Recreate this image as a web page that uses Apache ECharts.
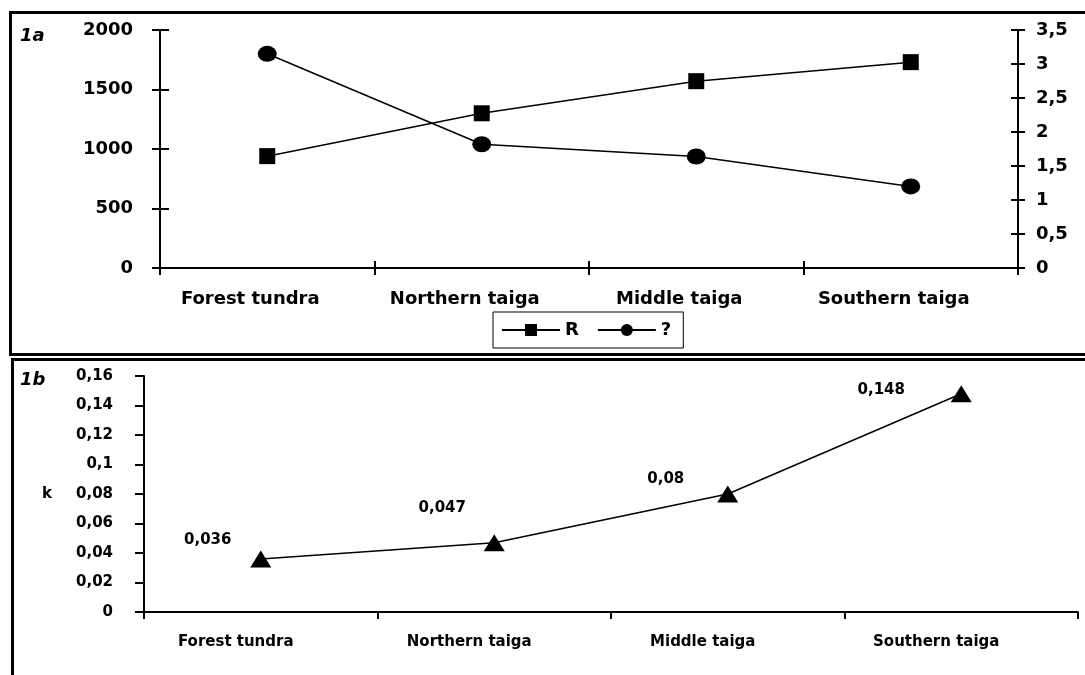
<!DOCTYPE html>
<html>
<head>
<meta charset="utf-8">
<script src="https://cdn.jsdelivr.net/npm/echarts@6/dist/echarts.min.js"></script>
<style>
html,body{margin:0;padding:0;background:#fff;}
#c{width:1085px;height:675px;}
</style>
</head>
<body>
<div id="c"></div>
<script>
// ---- data ----
var categories = ['Forest tundra', 'Northern taiga', 'Middle taiga', 'Southern taiga'];
var seriesR = [940, 1300, 1570, 1730];          // left axis (1a)
var seriesQ = [3.15, 1.82, 1.64, 1.2];          // right axis (1a)
var seriesK = [0.036, 0.047, 0.08, 0.148];      // panel 1b
var leftTicksA = { min: 0, max: 2000, interval: 500 };
var rightTicksA = { min: 0, max: 3.5, interval: 0.5 };
var ticksB = { min: 0, max: 0.16, interval: 0.02 };
// label offsets for 1b value labels (style, not data)
var kLabelOffsets = [[-53, 7], [-52, -9], [-62, 11], [-80, 22]];

var FONT = '"DejaVu Sans", "Liberation Sans", Arial, sans-serif';
function comma(v) { return String(+v.toFixed(6)).replace('.', ','); }
function plain(v) { return String(v); }

var chart = echarts.init(document.getElementById('c'), null, { renderer: 'canvas' });

var lineS = { color: '#000', width: 2 };

var option = {
  backgroundColor: '#fff',
  animation: false,
  grid: [
    { left: 160, right: 67, top: 30, bottom: 407 },
    { left: 144, right: 7, top: 376, bottom: 63 },
    { left: 160, right: 67, top: 30, bottom: 407 }
  ],
  legend: {
    left: 493, top: 312,
    padding: [9, 12, 9, 8],
    itemWidth: 58, itemHeight: 15, itemGap: 18,
    borderColor: '#000', borderWidth: 1,
    textStyle: { fontFamily: FONT, fontWeight: 'bold', fontSize: 18, color: '#000', padding: [0, 0, 0, 0] },
    data: ['R', '?']
  },
  xAxis: [
    { type: 'category', gridIndex: 0, data: categories, boundaryGap: true,
      axisLine: { show: true, lineStyle: lineS }, axisTick: { show: true, length: 7, lineStyle: lineS },
      axisLabel: { fontFamily: FONT, fontWeight: 'bold', fontSize: 18, color: '#000', margin: 22, interval: 0, padding: [0, 34, 0, 0] },
      splitLine: { show: false } },
    { type: 'category', gridIndex: 2, position: 'bottom', offset: -7, data: categories, boundaryGap: true,
      axisLine: { show: false, onZero: false }, axisTick: { show: true, length: 14, lineStyle: lineS },
      axisLabel: { show: false }, splitLine: { show: false } },
    { type: 'category', gridIndex: 1, data: categories, boundaryGap: true,
      axisLine: { show: true, lineStyle: lineS }, axisTick: { show: true, length: 7, lineStyle: lineS },
      axisLabel: { fontFamily: FONT, fontWeight: 'bold', fontSize: 15, color: '#000', margin: 23, interval: 0, padding: [0, 50, 0, 0] },
      splitLine: { show: false } }
  ],
  yAxis: [
    { type: 'value', gridIndex: 0, position: 'left', min: leftTicksA.min, max: leftTicksA.max, interval: leftTicksA.interval,
      axisLine: { show: true, lineStyle: lineS }, axisTick: { show: true, length: 8, lineStyle: lineS },
      axisLabel: { fontFamily: FONT, fontWeight: 'bold', fontSize: 18, color: '#000', margin: 27, formatter: plain },
      splitLine: { show: false } },
    { type: 'value', gridIndex: 0, position: 'right', min: rightTicksA.min, max: rightTicksA.max, interval: rightTicksA.interval,
      axisLine: { show: true, lineStyle: lineS }, axisTick: { show: true, length: 7, lineStyle: lineS },
      axisLabel: { fontFamily: FONT, fontWeight: 'bold', fontSize: 18, color: '#000', margin: 18, formatter: comma },
      splitLine: { show: false } },
    { type: 'value', gridIndex: 2, position: 'left', offset: -9, min: leftTicksA.min, max: leftTicksA.max, interval: leftTicksA.interval,
      axisLine: { show: false }, axisTick: { show: true, length: 17, lineStyle: lineS },
      axisLabel: { show: false }, splitLine: { show: false } },
    { type: 'value', gridIndex: 2, position: 'right', offset: -7, min: rightTicksA.min, max: rightTicksA.max, interval: rightTicksA.interval,
      axisLine: { show: false }, axisTick: { show: true, length: 14, lineStyle: lineS },
      axisLabel: { show: false }, splitLine: { show: false } },
    { type: 'value', gridIndex: 1, position: 'left', min: ticksB.min, max: ticksB.max, interval: ticksB.interval,
      name: 'k', nameLocation: 'middle', nameGap: 92, nameRotate: 0,
      nameTextStyle: { fontFamily: FONT, fontWeight: 'bold', fontSize: 15, color: '#000' },
      axisLine: { show: true, lineStyle: lineS }, axisTick: { show: true, length: 9, lineStyle: lineS },
      axisLabel: { fontFamily: FONT, fontWeight: 'bold', fontSize: 15, color: '#000', margin: 31, formatter: comma },
      splitLine: { show: false } }
  ],
  series: [
    { name: 'R', type: 'line', xAxisIndex: 0, yAxisIndex: 0, data: seriesR,
      symbol: 'rect', symbolSize: 16, color: '#000',
      lineStyle: { color: '#000', width: 1.5 }, itemStyle: { color: '#000' } },
    { name: '?', type: 'line', xAxisIndex: 0, yAxisIndex: 1, data: seriesQ,
      symbol: 'circle', symbolSize: [19, 16], color: '#000',
      lineStyle: { color: '#000', width: 1.5 }, itemStyle: { color: '#000' } },
    { name: 'k', type: 'line', xAxisIndex: 2, yAxisIndex: 4,
      data: seriesK.map(function (v, i) {
        return { value: v, label: { offset: kLabelOffsets[i] } };
      }),
      symbol: 'triangle', symbolSize: [21, 17],
      lineStyle: { color: '#000', width: 1.5 }, itemStyle: { color: '#000' },
      label: { show: true, position: 'top', distance: 10, fontFamily: FONT, fontWeight: 'bold', fontSize: 15, color: '#000',
        formatter: function (p) { return comma(p.value); } } },
    { name: 'ticks', type: 'line', xAxisIndex: 1, yAxisIndex: 2, data: [], silent: true, showSymbol: false },
    { name: 'ticks2', type: 'line', xAxisIndex: 1, yAxisIndex: 3, data: [], silent: true, showSymbol: false }
  ],
  graphic: [
    { type: 'rect', shape: { x: 10.5, y: 12.5, width: 1100, height: 342 }, style: { fill: null, stroke: '#000', lineWidth: 3 }, silent: true, z: -1 },
    { type: 'rect', shape: { x: 12.5, y: 359.5, width: 1100, height: 400 }, style: { fill: null, stroke: '#000', lineWidth: 3 }, silent: true, z: -1 },
    { type: 'text', left: 20, top: 27, style: { text: '1a', font: 'italic bold 18px ' + FONT, fill: '#000' } },
    { type: 'text', left: 20, top: 371, style: { text: '1b', font: 'italic bold 18px ' + FONT, fill: '#000' } }
  ]
};
chart.setOption(option);
</script>
</body>
</html>
